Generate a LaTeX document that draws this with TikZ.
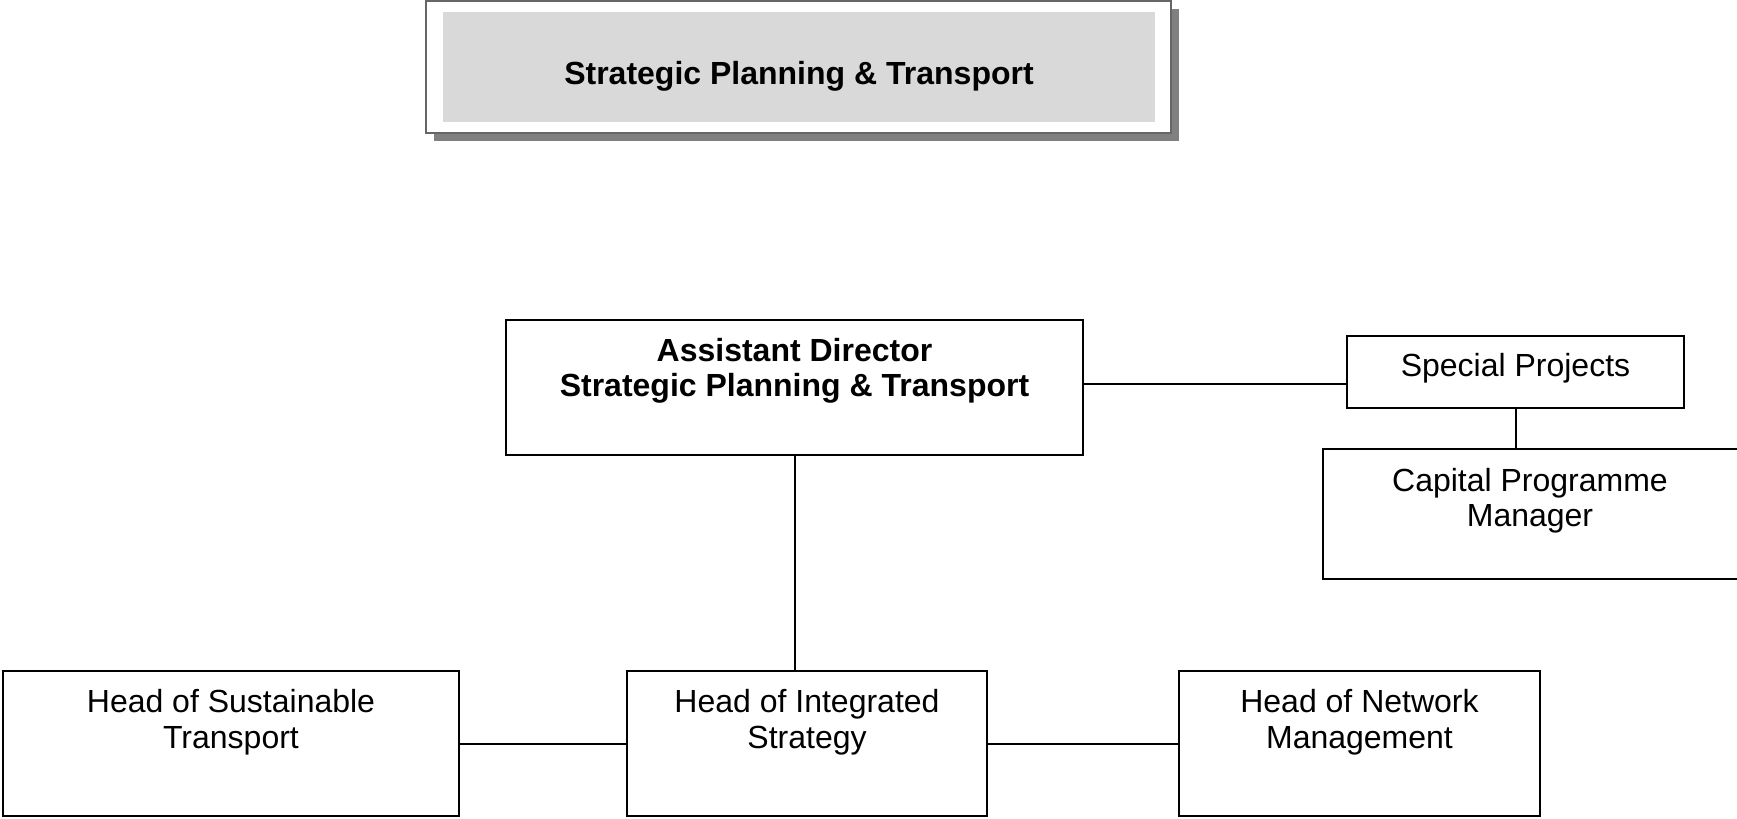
\documentclass[tikz,border=0pt]{standalone}
\usepackage{fontspec}
\setmainfont{Liberation Sans}
\begin{document}
\begin{tikzpicture}[x=0.5pt,y=-0.5pt,
  box/.style={draw=black,line width=1pt,fill=white,inner sep=0pt},
  lbl/.style={align=center,inner sep=0pt,font=\fontsize{16}{17.75}\selectfont},
  blbl/.style={lbl,font=\fontsize{16}{17.75}\selectfont\bfseries},
  conn/.style={draw=black,line width=1pt}]
\useasboundingbox (0,0) rectangle (1737,819);
% title
\fill[black!50] (434,9) rectangle (1179,141);
\node[box,draw=black!60,line width=0.8pt,minimum width=372.5pt,minimum height=66pt] (title) at (798.75,67) {};
\node[fill=black!15,inner sep=0pt,minimum width=356pt,minimum height=55pt] (titlein) at (799,67) {};
\node[blbl] (titlet) at (799,76) {Strategic Planning \& Transport};
% boxes
\node[box,minimum width=288.5pt,minimum height=67.5pt] (AD) at (794.5,387.5) {};
\node[box,minimum width=168.5pt,minimum height=36pt] (SP) at (1515.5,372) {};
\node[box,minimum width=207.5pt,minimum height=65pt] (CPM) at (1530.5,514) {};
\node[box,minimum width=228pt,minimum height=72.5pt] (ST) at (231,743.5) {};
\node[box,minimum width=180pt,minimum height=72.5pt] (IS) at (807,743.5) {};
\node[box,minimum width=180.5pt,minimum height=72.5pt] (NM) at (1359.5,743.5) {};
% texts
\node[blbl] (ADt) at (794.5,371) {Assistant Director\\Strategic Planning \& Transport};
\node[lbl] (SPt) at (1515.5,368) {Special Projects};
\node[lbl] (CPMt) at (1530,500.5) {Capital Programme\\Manager};
\node[lbl] (STt) at (231,722) {Head of Sustainable\\Transport};
\node[lbl] (ISt) at (807,722) {Head of Integrated\\Strategy};
\node[lbl] (NMt) at (1359.5,722) {Head of Network\\Management};
% connectors
\coordinate (ADe) at ([yshift=1.75pt]AD.east);
\draw[conn] (ADe) -- (SP.west |- ADe);
\draw[conn] (SP.south) -- (SP.south |- CPM.north);
\draw[conn] (AD.south) -- (AD.south |- IS.north);
\draw[conn] (ST.east) -- (IS.west);
\draw[conn] (IS.east) -- (NM.west);
\end{tikzpicture}
\end{document}
